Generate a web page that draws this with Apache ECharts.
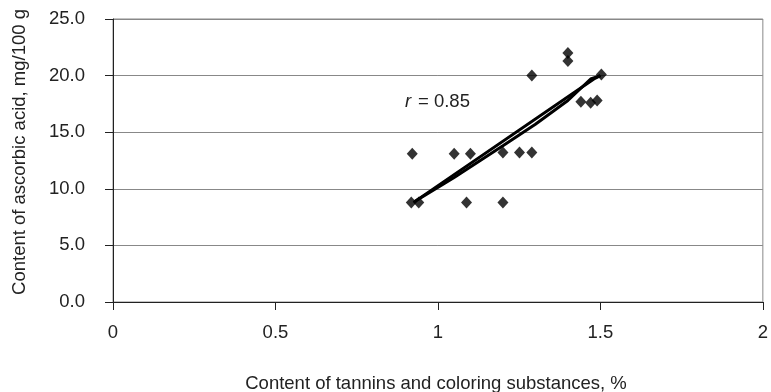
<!DOCTYPE html>
<html><head><meta charset="utf-8">
<script src="https://cdn.jsdelivr.net/npm/echarts@6/dist/echarts.min.js"></script>
<style>html,body{margin:0;padding:0;background:#fff}#c{width:771px;height:392px}</style>
</head><body><div id="c"></div>
<script>
const tanninX = [0.918, 0.941, 0.921, 1.050, 1.100, 1.088, 1.200, 1.200, 1.251, 1.289, 1.289, 1.400, 1.400, 1.503, 1.440, 1.470, 1.490];
const ascorbicY = [8.8, 8.8, 13.1, 13.1, 13.1, 8.8, 8.8, 13.2, 13.2, 13.2, 20.0, 22.0, 21.3, 20.1, 17.7, 17.6, 17.8];
const trendLinearX = [0.925, 1.48, 1.5];
const trendLinearY = [8.8, 19.7, 20.0];
const trendCurveX = [0.93, 1.05, 1.2, 1.3, 1.4, 1.47, 1.5];
const trendCurveY = [8.9, 11.0, 13.8, 15.7, 17.8, 19.7, 20.0];
const yTicks = [0, 5, 10, 15, 20, 25];
const xTicks = [0, 0.5, 1, 1.5, 2];
const xTitle = 'Content of tannins and coloring substances, %';
const yTitle = 'Content of ascorbic acid, mg/100 g';
const rLabel = '= 0.85';

const pts = tanninX.map((x, i) => [x, ascorbicY[i]]);
const zip = (a, b) => a.map((x, i) => [x, b[i]]);
const font = '"Liberation Sans", Arial, sans-serif';
const fs = 18.5;
const chart = echarts.init(document.getElementById('c'));
chart.setOption({
  animation: false,
  backgroundColor: '#fff',
  grid: { left: 113, right: 3, top: 19, bottom: 90, show: true, borderColor: '#888', borderWidth: 1 },
  xAxis: {
    type: 'value', min: 0, max: 2, interval: 0.5,
    axisLine: { show: true, lineStyle: { color: '#222', width: 1 } },
    axisTick: { show: true, inside: false, length: 8, lineStyle: { color: '#222' } },
    axisLabel: { fontSize: fs, color: '#222', fontFamily: font, margin: 21,
      formatter: v => String(v) },
    splitLine: { show: false }
  },
  yAxis: {
    type: 'value', min: 0, max: 25, interval: 5,
    axisLine: { show: true, lineStyle: { color: '#222', width: 1 } },
    axisTick: { show: true, inside: false, length: 8, lineStyle: { color: '#222' } },
    axisLabel: { fontSize: fs, color: '#222', fontFamily: font, margin: 28,
      padding: [5, 0, 0, 0], formatter: v => v.toFixed(1) },
    splitLine: { show: true, lineStyle: { color: '#888', width: 1 } }
  },
  series: [
    { type: 'line', data: zip(trendLinearX, trendLinearY), symbol: 'none', silent: true,
      lineStyle: { color: '#000', width: 3 }, z: 3 },
    { type: 'line', data: zip(trendCurveX, trendCurveY), symbol: 'none', silent: true,
      lineStyle: { color: '#000', width: 3 }, z: 3 },
    { type: 'scatter', data: pts, symbol: 'diamond', symbolSize: [11, 12],
      itemStyle: { color: '#000' }, z: 4 }
  ],
  graphic: [
    { type: 'text', x: 405, y: 92, style: { text: 'r', font: 'italic ' + fs + 'px ' + font, fill: '#222' } },
    { type: 'text', x: 418, y: 92, style: { text: rLabel, font: fs + 'px ' + font, fill: '#222' } },
    { type: 'text', x: 436, y: 384, style: { text: xTitle, font: fs + 'px ' + font, fill: '#222',
      align: 'center', verticalAlign: 'middle' } },
    { type: 'text', x: 20, y: 152, rotation: Math.PI / 2, style: { text: yTitle, font: fs + 'px ' + font,
      fill: '#222', align: 'center', verticalAlign: 'middle' } }
  ]
});
</script></body></html>
